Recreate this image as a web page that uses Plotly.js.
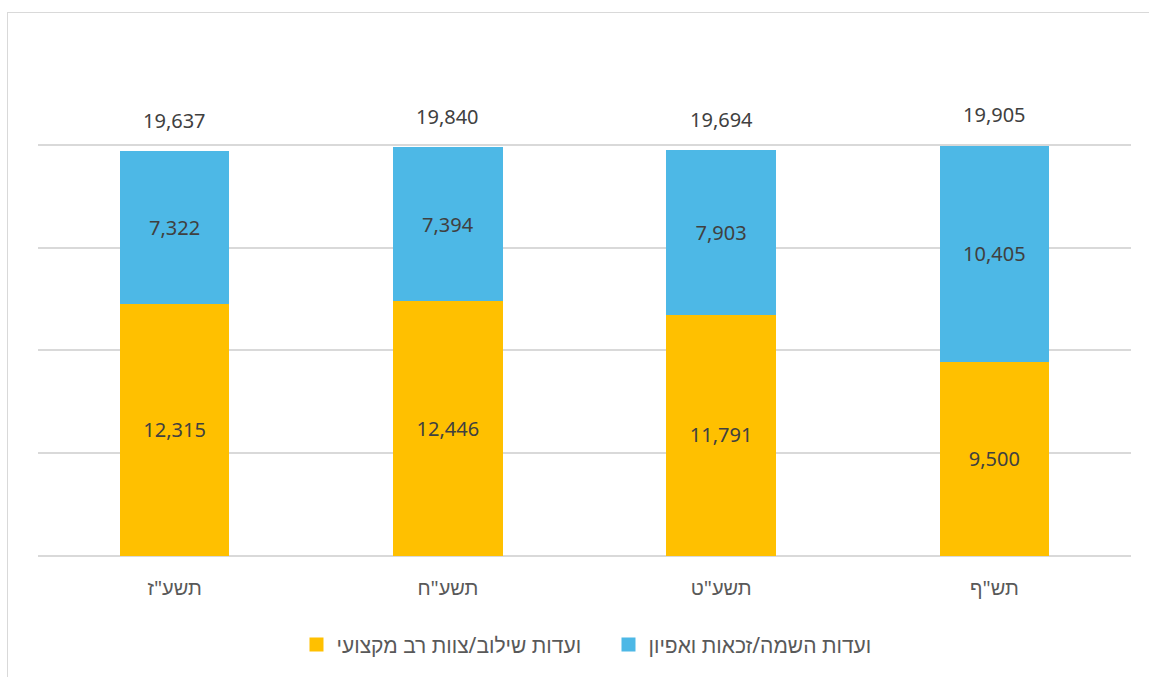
<!DOCTYPE html>
<html>
<head>
<meta charset="utf-8">
<script src="https://cdn.plot.ly/plotly-3.0.1.min.js"></script>
<style>
  html, body { margin: 0; padding: 0; background: #ffffff; }
  #chart { position: absolute; left: 0; top: 0; width: 1149px; height: 677px; }
  #frame { position: absolute; left: 7px; top: 12px; width: 1200px; height: 700px;
           border: 1px solid #d9d9d9; pointer-events: none; box-sizing: border-box; }
</style>
</head>
<body>
<div id="chart"></div>
<div id="frame"></div>
<script>
const categories = ['תשע"ז', 'תשע"ח', 'תשע"ט', 'תש"ף'];
const integrationValues = [12315, 12446, 11791, 9500];
const placementValues = [7322, 7394, 7903, 10405];
const integrationName = 'ועדות שילוב/צוות רב מקצועי';
const placementName = 'ועדות השמה/זכאות ואפיון';

const totals = categories.map((c, i) => integrationValues[i] + placementValues[i]);
const fmt = v => v.toLocaleString('en-US');

const FONT = '"Noto Sans", "Liberation Sans", "DejaVu Sans", sans-serif';
const TXT = '#404040';
const LBL = '#595959';
const YELLOW = '#FFC000';
const BLUE = '#4DB8E6';

const traces = [
  {
    type: 'bar', name: integrationName, x: categories, y: integrationValues,
    marker: { color: YELLOW, line: { color: YELLOW, width: 2 } },
    text: integrationValues.map(fmt), textposition: 'inside', insidetextanchor: 'middle',
    textfont: { family: FONT, size: 20, color: TXT }, hoverinfo: 'none'
  },
  {
    type: 'bar', name: placementName, x: categories, y: placementValues,
    marker: { color: BLUE, line: { color: BLUE, width: 2 } },
    text: placementValues.map(fmt), textposition: 'inside', insidetextanchor: 'middle',
    textfont: { family: FONT, size: 20, color: TXT }, hoverinfo: 'none'
  }
];

const annotations = categories.map((c, i) => ({
  x: c, y: totals[i], xref: 'x', yref: 'y', text: fmt(totals[i]),
  showarrow: false, yanchor: 'middle', yshift: 32,
  font: { family: FONT, size: 20, color: TXT }
}));

const layout = {
  width: 1149, height: 677,
  margin: { l: 38, r: 18, t: 42, b: 121 },
  paper_bgcolor: '#ffffff', plot_bgcolor: '#ffffff',
  barmode: 'stack', bargap: 0.607,
  font: { family: FONT, size: 20, color: TXT },
  xaxis: {
    type: 'category', showgrid: false, zeroline: false, showline: false, ticks: '',
    ticklabelstandoff: 18, tickfont: { family: FONT, size: 20, color: LBL }
  },
  yaxis: {
    range: [0, 25000], dtick: 5000, showticklabels: false, ticks: '',
    showgrid: true, gridcolor: '#d9d9d9', gridwidth: 2,
    zeroline: true, zerolinecolor: '#d9d9d9', zerolinewidth: 2, showline: false
  },
  showlegend: true,
  legend: {
    orientation: 'h', x: 0.2365, xanchor: 'left', y: -0.173, yanchor: 'middle',
    font: { family: FONT, size: 21, color: LBL }, traceorder: 'normal', itemclick: false,
    entrywidth: 267
  },
  annotations: annotations
};

Plotly.newPlot('chart', traces, layout, { staticPlot: true, displayModeBar: false });
</script>
</body>
</html>
